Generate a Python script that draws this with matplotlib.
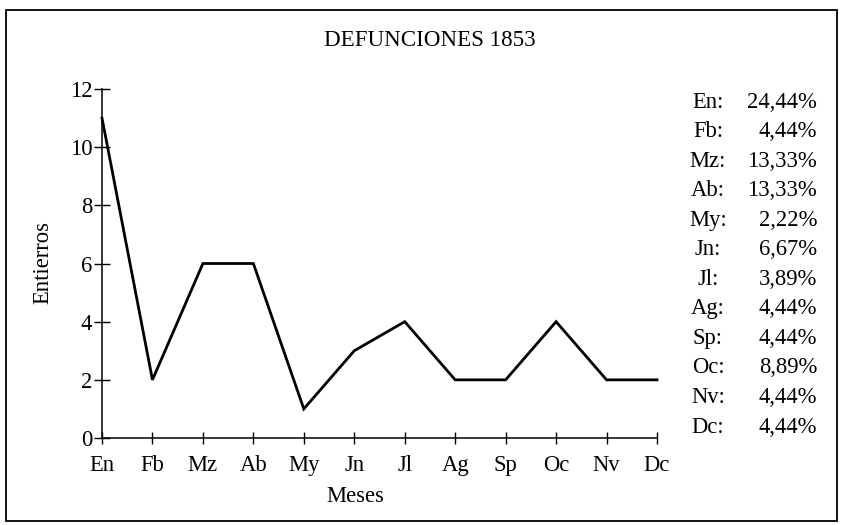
import matplotlib
matplotlib.use("Agg")
import matplotlib.pyplot as plt
from matplotlib.patches import Rectangle

months = ["En", "Fb", "Mz", "Ab", "My", "Jn", "Jl", "Ag", "Sp", "Oc", "Nv", "Dc"]
burials = [11, 2, 6, 6, 1, 3, 4, 2, 2, 4, 2, 2]
pct_labels = ["24,44%", "4,44%", "13,33%", "13,33%", "2,22%", "6,67%",
              "3,89%", "4,44%", "4,44%", "8,89%", "4,44%", "4,44%"]
yticks = [0, 2, 4, 6, 8, 10, 12]
title = "DEFUNCIONES 1853"
xlabel = "Meses"
ylabel = "Entierros"

W, H = 843, 525
plt.rcParams['font.family'] = ['Liberation Serif', 'DejaVu Serif']
fs = 16.3

fig = plt.figure(figsize=(W / 100, H / 100), dpi=100)

def fx(px):
    return px / W

def fy(py):
    return 1 - py / H

# outer frame
fig.patches.append(Rectangle((fx(6), fy(521)), fx(837) - fx(6), fy(10) - fy(521),
                             transform=fig.transFigure, fill=False,
                             edgecolor="black", linewidth=1.3))

ax = fig.add_axes([fx(102), fy(438), fx(657) - fx(102), fy(89) - fy(438)])
x = list(range(len(months)))
ax.plot(x, burials, color="black", linewidth=2.0, clip_on=False,
        solid_joinstyle="miter")
ax.set_xlim(0, len(months) - 1)
ax.set_ylim(0, 12)
ax.set_xticks(x)
ax.set_xticklabels(months, fontsize=fs)
ax.set_yticks(yticks)
ax.set_yticklabels([str(v) for v in yticks], fontsize=fs)
ax.tick_params(axis="y", direction="inout", length=12, width=1, pad=1)
ax.tick_params(axis="x", direction="inout", length=9, width=1, pad=8)
for s in ["top", "right"]:
    ax.spines[s].set_visible(False)
for s in ["left", "bottom"]:
    ax.spines[s].set_linewidth(1.1)

fig.text(fx(430), fy(40), title, ha="center", va="center", fontsize=fs + 0.3)
fig.text(fx(355), fy(497), xlabel, ha="center", va="center", fontsize=fs)
fig.text(fx(43), fy(262), ylabel, ha="center", va="center", fontsize=fs,
         rotation=90)

row0, step = 102, 29.55
for i, (m, p) in enumerate(zip(months, pct_labels)):
    yy = fy(row0 + i * step)
    fig.text(fx(708), yy, m + ":", ha="center", va="center", fontsize=fs)
    fig.text(fx(817), yy, p, ha="right", va="center", fontsize=fs)

fig.savefig("out.png", dpi=100)
